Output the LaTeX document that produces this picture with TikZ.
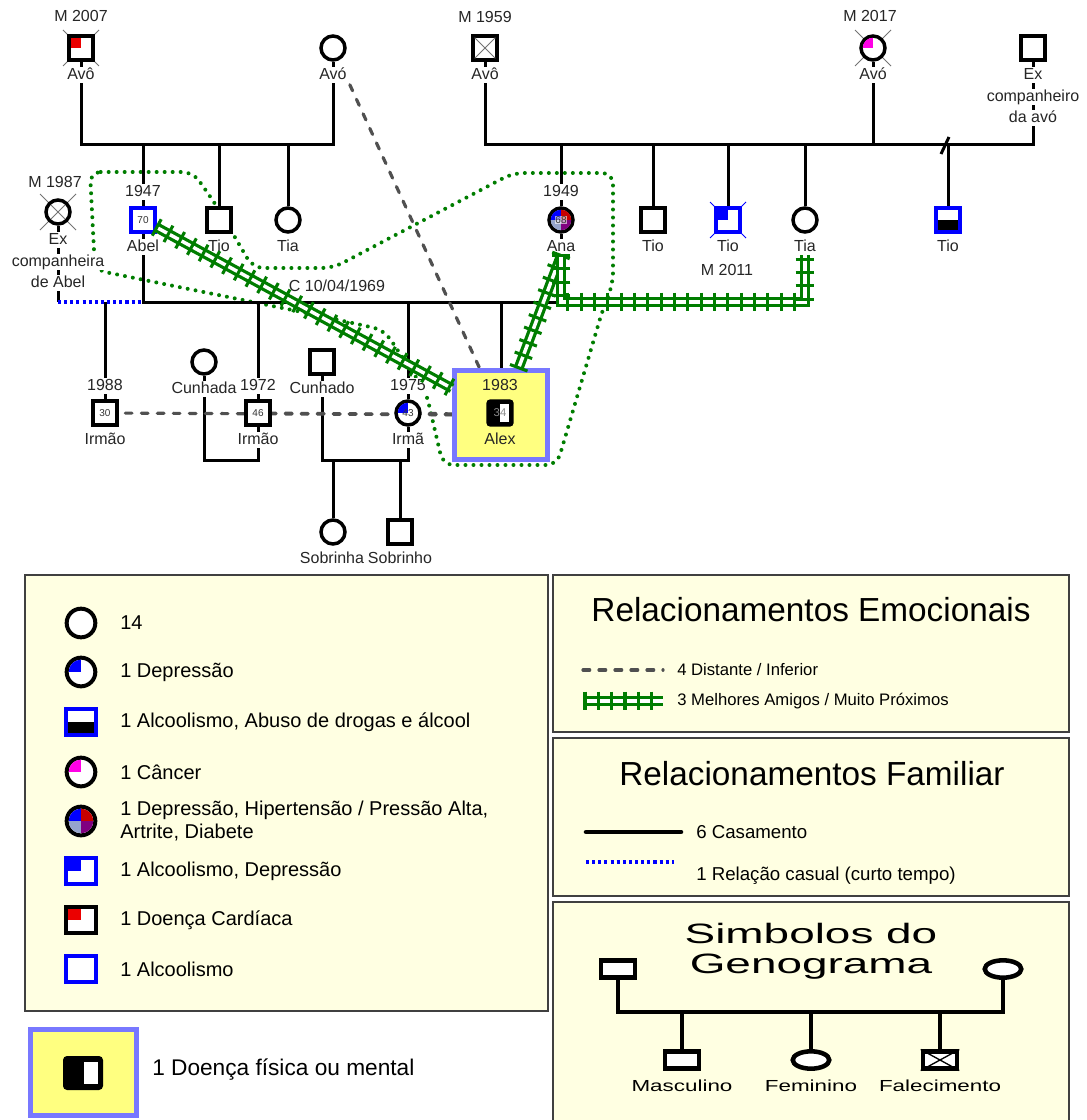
\documentclass[tikz,border=0pt]{standalone}
\usepackage{fontspec}
\setmainfont{Liberation Sans}
\usetikzlibrary{shapes.geometric,decorations.pathreplacing}

\definecolor{verdeamigo}{RGB}{0,125,0}
\definecolor{cinzadist}{RGB}{80,80,80}
\definecolor{azulalcool}{RGB}{0,0,255}
\definecolor{vermcard}{RGB}{235,0,0}
\definecolor{magcancer}{RGB}{255,0,230}
\definecolor{vermhiper}{RGB}{200,0,0}
\definecolor{roxoartr}{RGB}{128,0,128}
\definecolor{cinzadiab}{RGB}{150,165,205}
\definecolor{creme}{RGB}{255,255,226}
\definecolor{amarelo}{RGB}{255,255,128}
\definecolor{lilas}{RGB}{120,120,255}

\pgfdeclarelayer{fundo}
\pgfsetlayers{fundo,main}

\tikzset{
  masc/.style={rectangle, draw, line width=2.6pt, fill=white, minimum size=18pt, inner sep=0pt},
  fem/.style={circle, draw, line width=2.6pt, fill=white, minimum size=18pt, inner sep=0pt},
  nome/.style={fill=white, inner sep=0.4pt, text height=9pt, text depth=2.5pt, text=black!85, font=\fontsize{12}{14}\selectfont},
  idade/.style={inner sep=0pt, text=black!80, font=\fontsize{7.5}{8}\selectfont},
  familia/.style={line width=2.25pt},
  casual/.style={draw=azulalcool, line width=2.6pt, dash pattern=on 2.3pt off 2.3pt},
  distante/.style={draw=cinzadist, line width=2.4pt, line cap=round, dash pattern=on 5pt off 7pt},
  amigos/.style={draw=verdeamigo, line width=7.5pt,
    postaction={draw=white, line width=2.6pt},
    postaction={decorate, draw=verdeamigo, line width=2.3pt,
      decoration={ticks, segment length=10pt, amplitude=7pt}}},
  casa/.style={draw=verdeamigo, line width=3pt, line cap=round, dash pattern=on 0pt off 6pt, rounded corners=8pt},
  obito/.style={draw=black!55, line width=0.7pt},
  quadro/.style={draw=black!75, line width=1.2pt, fill=creme},
  titulo/.style={inner sep=0pt, font=\fontsize{25}{30}\selectfont},
  legm/.style={masc, minimum width=22.5pt, minimum height=20pt, line width=3pt},
  legf/.style={fem, minimum size=21.5pt, line width=3pt},
  legtxt/.style={anchor=west, inner sep=0pt, align=left, font=\fontsize{15}{17.5}\selectfont},
  legpeq/.style={anchor=west, inner sep=0pt, font=\fontsize{12.5}{14}\selectfont},
  legmed/.style={anchor=west, inner sep=0pt, font=\fontsize{14}{16}\selectfont},
  simm/.style={rectangle, draw, fill=white, line width=3.4pt, minimum width=25.5pt, minimum height=12.4pt, inner sep=0pt},
  simf/.style={ellipse, draw, fill=white, line width=3.4pt, minimum width=27.4pt, minimum height=13pt, inner sep=0pt},
  simrot/.style={inner sep=0pt, font=\fontsize{12}{14}\selectfont},
  simtit/.style={inner sep=0pt, text height=15pt, text depth=4pt, font=\fontsize{21}{24}\selectfont},
}

\begin{document}
\begin{tikzpicture}[x=0.75pt, y=-0.75pt]
\useasboundingbox (0,0) rectangle (1086,1120);

% linhas das unioes
\coordinate (g1) at (0,145);
\coordinate (g2) at (0,302);
\coordinate (g3) at (0,460);
\coordinate (s1) at (0,1012);

% avos paternos e filhos
\node[masc] (avop) at (81,48) {};
\node[fem] (avap) at (333,48) {};
\node[fem] (exab) at (58,212) {};
\node[masc, draw=azulalcool] (abel) at (143,220) {};
\node[masc] (tio1) at (219,220) {};
\node[fem] (tia1) at (288,220) {};

% avos maternos e filhos
\node[masc] (avom) at (485,48) {};
\node[fem] (avam) at (873,48) {};
\node[masc] (exav) at (1033,48) {};
\node[fem] (ana) at (561,220) {};
\node[masc] (tio2) at (653,220) {};
\node[masc, draw=azulalcool] (tio3) at (728,220) {};
\node[fem] (tia2) at (805,220) {};
\node[masc, draw=azulalcool] (tio4) at (948,220) {};

% irmaos, cunhados e sobrinhos
\node[masc] (irm88) at (105,413) {};
\node[fem] (cunhada) at (204,362) {};
\node[masc] (irm72) at (258,413) {};
\node[masc] (cunhado) at (322,362) {};
\node[fem] (irma75) at (408,413) {};
\node[fem] (sobrinha) at (333,532) {};
\node[masc] (sobrinho) at (400,532) {};

% Alex
\node[draw=lilas, line width=3.75pt, fill=amarelo, minimum width=69.75pt, minimum height=66.75pt, inner sep=0pt] (alex) at (501,415) {};
\node[masc, fill=black, rounded corners=2pt] (alexs) at (500,413) {};

% simbolos do genograma
\node[simm] (s-pai) at (618,969) {};
\node[simf] (s-mae) at (1003,969) {};
\node[simm] (s-masc) at (682,1060) {};
\node[simf] (s-fem) at (811,1060) {};
\node[simm] (s-fal) at (940,1060) {};

\begin{pgfonlayer}{fundo}
  % quadros das legendas
  \draw[quadro] (25,575) rectangle (548,1011);
  \draw[quadro] (553,575) rectangle (1069,732);
  \draw[quadro] (553,738) rectangle (1069,896);
  \draw[quadro] (553,902) rectangle (1069,1130);

  % moram juntos
  \draw[casa] (90,172) -- (193,172) -- (216,205) -- (253,268) -- (333,268) -- (513,173) -- (613,173) -- (613,283) -- (602,312) -- (557,465) -- (443,465) -- (426,392) -- (384,330) -- (307,313) -- (95,270) -- cycle;

  % avos paternos
  \draw[familia] (avop) -- (avop |- g1) -- (avap |- g1) -- (avap);
  \foreach \f in {abel,tio1,tia1}
    \draw[familia] (\f) -- (\f |- g1);

  % avos maternos
  \draw[familia] (avom) -- (avom |- g1) -- (avam |- g1) -- (avam);
  \draw[familia] (avam |- g1) -- (exav |- g1) -- (exav);
  \draw[familia] (941,154) -- (949,137);
  \foreach \f in {ana,tio2,tio3,tia2,tio4}
    \draw[familia] (\f) -- (\f |- g1);

  % Abel e Ana
  \draw[familia] (abel) -- (abel |- g2) -- (ana |- g2) -- (ana);
  \draw[familia] (exab) -- (exab |- g2);
  \draw[casual] (exab |- g2) -- (abel |- g2);
  \foreach \f in {irm88,irm72,irma75,alex}
    \draw[familia] (\f |- g2) -- (\f);

  % cunhados
  \draw[familia] (cunhada) -- (cunhada |- g3) -- (irm72 |- g3) -- (irm72);
  \draw[familia] (cunhado) -- (cunhado |- g3) -- (irma75 |- g3) -- (irma75);
  \draw[familia] (sobrinha |- g3) -- (sobrinha);
  \draw[familia] (sobrinho |- g3) -- (sobrinho);

  % distantes
  \draw[distante, shorten <=20pt] (avap) -- (alex);
  \foreach \f in {irma75,irm72,irm88}
    \draw[distante] (alex) -- (\f);

  % falecimentos
  \foreach \f in {avop,avam,exab}
    \draw[obito] ([shift={(-13.5pt,13.5pt)}]\f.center) -- ([shift={(13.5pt,-13.5pt)}]\f.center)
                 ([shift={(-13.5pt,-13.5pt)}]\f.center) -- ([shift={(13.5pt,13.5pt)}]\f.center);
  \draw[obito, draw=azulalcool] ([shift={(-13.5pt,13.5pt)}]tio3.center) -- ([shift={(13.5pt,-13.5pt)}]tio3.center)
                 ([shift={(-13.5pt,-13.5pt)}]tio3.center) -- ([shift={(13.5pt,13.5pt)}]tio3.center);

  % simbolos do genograma
  \draw[familia, line width=3.4pt] (s-pai) -- (s-pai |- s1) -- (s-mae |- s1) -- (s-mae);
  \foreach \f in {s-masc,s-fem,s-fal}
    \draw[familia, line width=3.4pt] (\f |- s1) -- (\f);
\end{pgfonlayer}

% doencas
\fill[vermcard] ([shift={(-7.7pt,7.7pt)}]avop.center) rectangle (avop.center);
\fill[azulalcool] ([shift={(-7.7pt,7.7pt)}]tio3.center) rectangle (tio3.center);
\fill ([shift={(-7.7pt,0pt)}]tio4.center) rectangle ([shift={(7.7pt,-7.7pt)}]tio4.center);
\begin{scope}
  \clip (avam.center) circle[radius=7.7pt];
  \fill[magcancer] (avam.center) rectangle ++(-8pt,8pt);
\end{scope}
\begin{scope}
  \clip (irma75.center) circle[radius=7.7pt];
  \fill[azulalcool] (irma75.center) rectangle ++(-8pt,8pt);
\end{scope}
\begin{scope}
  \clip (ana.center) circle[radius=7.7pt];
  \fill[azulalcool] (ana.center) rectangle ++(-8pt,8pt);
  \fill[vermhiper] (ana.center) rectangle ++(8pt,8pt);
  \fill[roxoartr] (ana.center) rectangle ++(8pt,-8pt);
  \fill[cinzadiab] (ana.center) rectangle ++(-8pt,-8pt);
\end{scope}
\draw[obito] ([shift={(-7.7pt,7.7pt)}]avom.center) -- ([shift={(7.7pt,-7.7pt)}]avom.center)
             ([shift={(-7.7pt,-7.7pt)}]avom.center) -- ([shift={(7.7pt,7.7pt)}]avom.center);
\draw[obito] ([shift={(-5.4pt,5.4pt)}]exab.center) -- ([shift={(5.4pt,-5.4pt)}]exab.center)
             ([shift={(-5.4pt,-5.4pt)}]exab.center) -- ([shift={(5.4pt,5.4pt)}]exab.center);
\fill[white] ([shift={(0pt,6.8pt)}]alexs.center) rectangle ([shift={(6.8pt,-6.8pt)}]alexs.center);

% idades
\node[idade] (abel-i) at (abel) {70};
\node[idade, fill=white, fill opacity=0.6, text opacity=1, inner sep=0.3pt] (ana-i) at (ana) {68};
\node[idade] (irm88-i) at (irm88) {30};
\node[idade] (irm72-i) at (irm72) {46};
\node[idade] (irma75-i) at (irma75) {43};
\node[idade, text=black!45, font=\fontsize{8.5}{9}\selectfont] (alex-i) at (alexs) {34};

% nomes e datas
\node[nome] (avop-m) at (81,17) {M 2007};
\node[nome] (avop-n) at (81,75) {Avô};
\node[nome] (avap-n) at (333,75) {Avó};
\node[nome] (avom-m) at (485,18) {M 1959};
\node[nome] (avom-n) at (485,75) {Avô};
\node[nome] (avam-m) at (870,17) {M 2017};
\node[nome] (avam-n) at (873,75) {Avó};
\node[nome] (exav-n1) at (1033,75) {Ex};
\node[nome] (exav-n2) at (1033,97) {companheiro};
\node[nome] (exav-n3) at (1033,118) {da avó};
\node[nome] (exab-m) at (55,183) {M 1987};
\node[nome] (exab-n1) at (58,240) {Ex};
\node[nome] (exab-n2) at (58,262) {companheira};
\node[nome] (exab-n3) at (58,283) {de Abel};
\node[nome] (abel-a) at (143,192) {1947};
\node[nome] (abel-n) at (143,247) {Abel};
\node[nome] (tio1-n) at (219,247) {Tio};
\node[nome] (tia1-n) at (288,247) {Tia};
\node[nome] (ana-a) at (561,192) {1949};
\node[nome] (ana-n) at (561,247) {Ana};
\node[nome] (tio2-n) at (653,247) {Tio};
\node[nome] (tio3-n) at (728,247) {Tio};
\node[nome] (tio3-m) at (727,271) {M 2011};
\node[nome] (tia2-n) at (805,247) {Tia};
\node[nome] (tio4-n) at (948,247) {Tio};
\node[nome] (cas-d) at (337,287) {C 10/04/1969};
\node[nome] (irm88-a) at (105,386) {1988};
\node[nome] (irm88-n) at (105,440) {Irmão};
\node[nome] (cunhada-n) at (204,389) {Cunhada};
\node[nome] (irm72-a) at (258,386) {1972};
\node[nome] (irm72-n) at (258,440) {Irmão};
\node[nome] (cunhado-n) at (322,389) {Cunhado};
\node[nome] (irma75-a) at (408,386) {1975};
\node[nome] (irma75-n) at (408,440) {Irmã};
\node[nome, fill=none] (alex-a) at (500,386) {1983};
\node[nome, fill=none] (alex-n) at (500,440) {Alex};
\node[nome] (sobrinha-n) at (332,559) {Sobrinha};
\node[nome] (sobrinho-n) at (400,559) {Sobrinho};

% melhores amigos
\draw[amigos] (abel) -- (alex);
\draw[amigos] (ana-n.south) -- (alex);
\draw[amigos] (ana-n.south) -- (ana-n.south |- g2) -- (tia2-n.south |- g2) -- (tia2-n.south);

% legenda das doencas
\node[legf] (l1) at (81,623) {};
\node[legtxt] (l1t) at (120,623) {14};
\node[legf] (l2) at (81,672) {};
\node[legtxt] (l2t) at (120,672) {1 Depressão};
\node[legm, draw=azulalcool] (l3) at (81,722) {};
\node[legtxt] (l3t) at (120,722) {1 Alcoolismo, Abuso de drogas e álcool};
\node[legf] (l4) at (81,772) {};
\node[legtxt] (l4t) at (120,772) {1 Câncer};
\node[legf] (l5) at (81,821) {};
\node[legtxt] (l5t) at (120,821) {1 Depressão, Hipertensão / Pressão Alta,\\Artrite, Diabete};
\node[legm, draw=azulalcool] (l6) at (81,871) {};
\node[legtxt] (l6t) at (120,871) {1 Alcoolismo, Depressão};
\node[legm] (l7) at (81,920) {};
\node[legtxt] (l7t) at (120,920) {1 Doença Cardíaca};
\node[legm, draw=azulalcool] (l8) at (81,969) {};
\node[legtxt] (l8t) at (120,969) {1 Alcoolismo};
\begin{scope}
  \clip (l2.center) circle[radius=9.25pt];
  \fill[azulalcool] (l2.center) rectangle ++(-10pt,10pt);
\end{scope}
\fill ([shift={(-9.75pt,0pt)}]l3.center) rectangle ([shift={(9.75pt,-8.5pt)}]l3.center);
\begin{scope}
  \clip (l4.center) circle[radius=9.25pt];
  \fill[magcancer] (l4.center) rectangle ++(-10pt,10pt);
\end{scope}
\begin{scope}
  \clip (l5.center) circle[radius=9.25pt];
  \fill[azulalcool] (l5.center) rectangle ++(-10pt,10pt);
  \fill[vermhiper] (l5.center) rectangle ++(10pt,10pt);
  \fill[roxoartr] (l5.center) rectangle ++(10pt,-10pt);
  \fill[cinzadiab] (l5.center) rectangle ++(-10pt,-10pt);
\end{scope}
\fill[azulalcool] ([shift={(-9.75pt,8.5pt)}]l6.center) rectangle (l6.center);
\fill[vermcard] ([shift={(-9.75pt,8.5pt)}]l7.center) rectangle (l7.center);

% legenda de Alex
\node[draw=lilas, line width=3.75pt, fill=amarelo, minimum width=79.5pt, minimum height=64.5pt, inner sep=0pt] (lalex) at (83.5,1072.5) {};
\node[fill=black, rounded corners=3pt, minimum width=30pt, minimum height=25.5pt, inner sep=0pt] (lalexs) at (83,1073) {};
\fill[white] ([shift={(0.4pt,8.2pt)}]lalexs.center) rectangle ([shift={(11.2pt,-8.6pt)}]lalexs.center);
\node[anchor=west, inner sep=0pt, font=\fontsize{17}{20}\selectfont] (lalext) at (152,1070) {1 Doença física ou mental};

% relacionamentos emocionais
\node[titulo] (t-emoc) at (811,610) {Relacionamentos Emocionais};
\coordinate (e1a) at (583,670);
\coordinate (e1b) at (663,670);
\draw[distante] (e1a) -- (e1b);
\node[legpeq] (e1t) at (677,670) {4 Distante / Inferior};
\coordinate (e2a) at (585,701);
\coordinate (e2b) at (663,701);
\draw[amigos] (e2a) -- (e2b);
\node[legpeq] (e2t) at (677,701) {3 Melhores Amigos / Muito Próximos};

% relacionamentos familiar
\node[titulo] (t-fam) at (812,774) {Relacionamentos Familiar};
\coordinate (f1a) at (586,832);
\coordinate (f1b) at (681,832);
\draw[familia, line width=3.4pt, line cap=round] (f1a) -- (f1b);
\node[legmed] (f1t) at (696,832) {6 Casamento};
\coordinate (f2a) at (586,862);
\coordinate (f2b) at (674,862);
\draw[casual] (f2a) -- (f2b);
\node[legmed] (f2t) at (696,876) {1 Relação casual (curto tempo)};

% simbolos do genograma
\node[simtit] (s-tit1) at (811,936) {\scalebox{1.64}[1]{Simbolos do}};
\node[simtit] (s-tit2) at (811,966) {\scalebox{1.64}[1]{Genograma}};
\draw[obito, draw=black, line width=1pt] (s-fal.north west) -- (s-fal.south east) (s-fal.south west) -- (s-fal.north east);
\node[simrot] (s-masc-n) at (682,1086) {\scalebox{1.4}[1]{Masculino}};
\node[simrot] (s-fem-n) at (811,1086) {\scalebox{1.4}[1]{Feminino}};
\node[simrot] (s-fal-n) at (940,1086) {\scalebox{1.4}[1]{Falecimento}};

\end{tikzpicture}
\end{document}
